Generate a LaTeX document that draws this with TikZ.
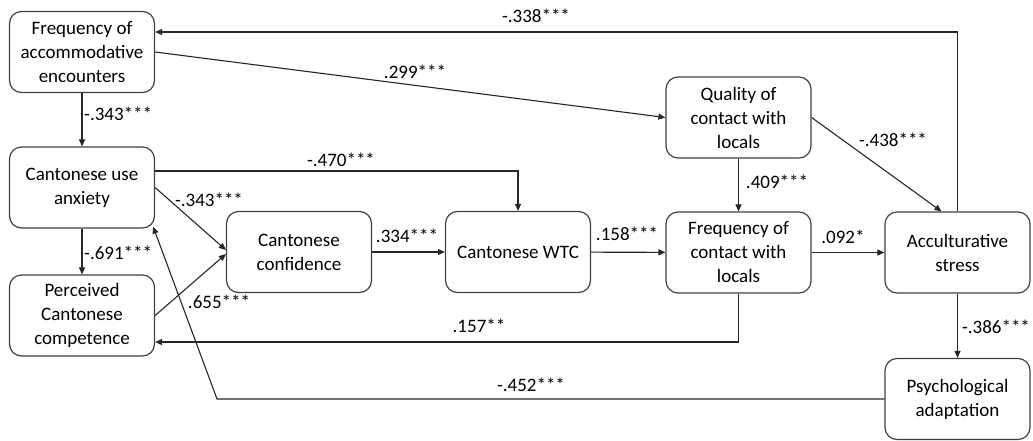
\documentclass[tikz,border=0pt]{standalone}
\usepackage{fontspec}
\setmainfont{Carlito}
\usetikzlibrary{arrows.meta}
\begin{document}
\begin{tikzpicture}[x=1pt,y=-1pt,
  every node/.style={font=\fontsize{19}{24}\selectfont, text=black},
  var/.style={draw=black!75, line width=1.2pt, rounded corners=12pt,
    minimum width=145pt, minimum height=81pt, align=center, inner sep=0pt},
  path/.style={draw=black!85, line width=1.1pt,
    -{Triangle[length=7pt,width=6pt]}},
  coef/.style={inner sep=0pt}]
\useasboundingbox (0,0) rectangle (1033,440);

% variables
\node[var] (FAE) at (82,52)    {Frequency of\\accommodative\\encounters};
\node[var] (CUA) at (82,187.5) {Cantonese use\\anxiety};
\node[var] (PCC) at (82,315.5) {Perceived\\Cantonese\\competence};
\node[var] (CC)  at (299,252)  {Cantonese\\confidence};
\node[var] (WTC) at (518,252)  {Cantonese WTC};
\node[var] (QCL) at (738.5,117.5) {Quality of\\contact with\\locals};
\node[var] (FCL) at (738.5,252.5) {Frequency of\\contact with\\locals};
\node[var] (AS)  at (957.5,252.5) {Acculturative\\stress};
\node[var] (PA)  at (957.5,399)   {Psychological\\adaptation};

\coordinate (pabend) at (217,399);

% paths
\draw[path] (FAE) -- (CUA);
\draw[path] (CUA) -- (PCC);
\draw[path] (FAE.east) -- (QCL.west);
\draw[path] (AS.north) |- ([yshift=20pt]FAE.east);
\draw[path] ([yshift=16.5pt]CUA.east) -| (WTC.north);
\draw[path] (CUA.east) -- ([yshift=2pt]CC.west);
\draw[path] (PCC.east) -- ([yshift=-2pt]CC.west);
\draw[path] (CC) -- (WTC);
\draw[path] (WTC) -- (FCL);
\draw[path] (QCL) -- (FCL);
\draw[path] (QCL.east) -- ([xshift=-16pt]AS.north);
\draw[path] (FCL) -- (AS);
\draw[path] (FCL.south) |- ([yshift=-26.5pt]PCC.east);
\draw[path] (AS) -- (PA);
\draw[path] (PA.west) -- (pabend) -- ([shift={(-2pt,2pt)}]CUA.south east);

% coefficients
\node[coef, anchor=west] (l1)  at (84,114)  {-.343***};
\node[coef, anchor=west] (l2)  at (84,253)  {-.691***};
\node[coef] (l3)  at (415,72)   {.299***};
\node[coef] (l4)  at (536,16)   {-.338***};
\node[coef] (l5)  at (341,160)  {-.470***};
\node[coef] (l6)  at (209,200)  {-.343***};
\node[coef] (l7)  at (219,302)  {.655***};
\node[coef] (l8)  at (407,236)  {.334***};
\node[coef] (l9)  at (627,234)  {.158***};
\node[coef] (l10) at (777,182)  {.409***};
\node[coef] (l11) at (843,237)  {.092*};
\node[coef] (l12) at (893,140)  {-.438***};
\node[coef] (l13) at (996,327)  {-.386***};
\node[coef] (l14) at (479,326)  {.157**};
\node[coef] (l15) at (531,385)  {-.452***};
\end{tikzpicture}
\end{document}
